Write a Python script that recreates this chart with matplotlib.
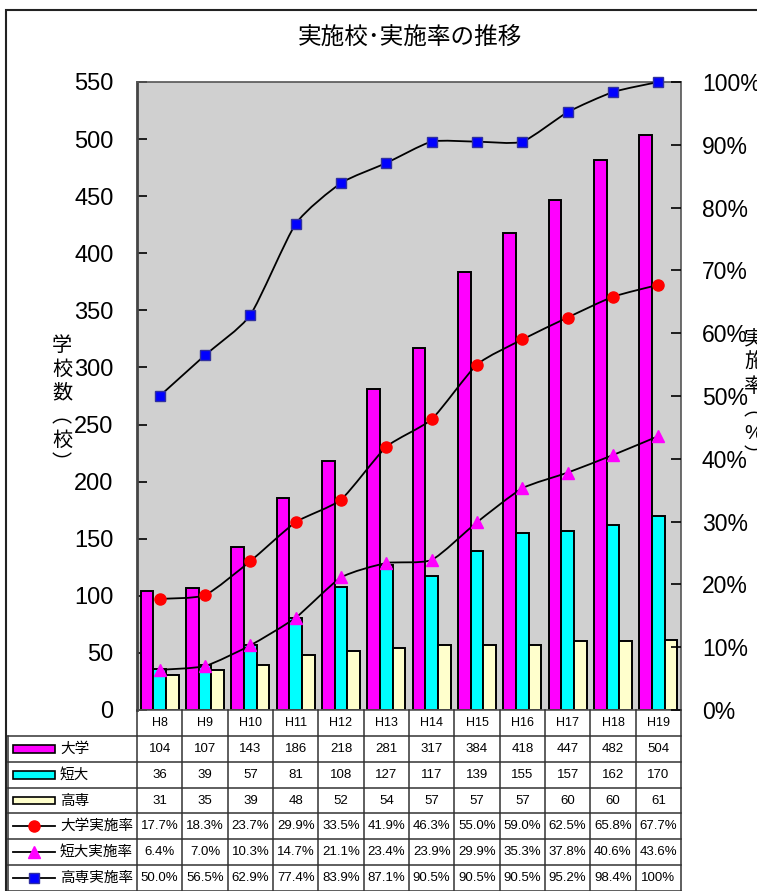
import matplotlib
matplotlib.use("Agg")
import matplotlib.pyplot as plt
import numpy as np
from matplotlib.path import Path
from matplotlib.patches import PathPatch, Rectangle

plt.rcParams['font.family'] = ['Liberation Sans', 'Noto Sans CJK JP', 'DejaVu Sans']

# ---- data ----
years = ["H8", "H9", "H10", "H11", "H12", "H13", "H14", "H15", "H16", "H17", "H18", "H19"]
univ = [104, 107, 143, 186, 218, 281, 317, 384, 418, 447, 482, 504]
junior = [36, 39, 57, 81, 108, 127, 117, 139, 155, 157, 162, 170]
kosen = [31, 35, 39, 48, 52, 54, 57, 57, 57, 60, 60, 61]
univ_rate = [17.7, 18.3, 23.7, 29.9, 33.5, 41.9, 46.3, 55.0, 59.0, 62.5, 65.8, 67.7]
junior_rate = [6.4, 7.0, 10.3, 14.7, 21.1, 23.4, 23.9, 29.9, 35.3, 37.8, 40.6, 43.6]
kosen_rate = [50.0, 56.5, 62.9, 77.4, 83.9, 87.1, 90.5, 90.5, 90.5, 95.2, 98.4, 100.0]
univ_rate_lbl = ["17.7%", "18.3%", "23.7%", "29.9%", "33.5%", "41.9%", "46.3%", "55.0%", "59.0%", "62.5%", "65.8%", "67.7%"]
junior_rate_lbl = ["6.4%", "7.0%", "10.3%", "14.7%", "21.1%", "23.4%", "23.9%", "29.9%", "35.3%", "37.8%", "40.6%", "43.6%"]
kosen_rate_lbl = ["50.0%", "56.5%", "62.9%", "77.4%", "83.9%", "87.1%", "90.5%", "90.5%", "90.5%", "95.2%", "98.4%", "100%"]
left_ticks = list(range(0, 551, 50))
right_ticks = list(range(0, 101, 10))

title = "実施校･実施率の推移"
ylabel_left = ["学", "校", "数", "︵", "校", "︶"]
ylabel_right = ["実", "施", "率", "︵", "%", "︶"]
series_names = ["大学", "短大", "高専", "大学実施率", "短大実施率", "高専実施率"]

W, H = 757, 891
fig = plt.figure(figsize=(W / 100, H / 100), dpi=100)

def fx(px):
    return px / W

def fy(py):
    return 1 - py / H

# frame
fig.add_artist(Rectangle((fx(6), fy(1000)), fx(900), fy(10) - fy(1000), transform=fig.transFigure,
                         fill=False, edgecolor='#222222', lw=1.5))

L, R, T, B = 137, 681, 82, 710
ax = fig.add_axes([fx(L), fy(B), fx(R - L), fy(T) - fy(B)])
ax.set_facecolor('#d0d0d0')
n = len(years)
x = np.arange(n)
bw = 0.28
cols = ['#ff00ff', '#00ffff', '#ffffcc']
for i, (vals, c) in enumerate(zip([univ, junior, kosen], cols)):
    ax.bar(x + (i - 1) * bw, vals, width=bw, color=c, edgecolor='black', linewidth=1.4, zorder=2)
ax.set_xlim(-0.5, n - 0.5)
ax.set_ylim(0, 550)
ax.set_yticks(left_ticks)
ax.set_xticks([])
ax.tick_params(axis='y', direction='in', length=7, width=1.2, labelsize=17, pad=17)
for s in ax.spines.values():
    s.set_color('#555555')
    s.set_linewidth(1.2)
ax.spines['left'].set_linewidth(2)
ax.spines['left'].set_color('#444444')

ax2 = ax.twinx()
ax2.set_ylim(0, 100)
ax2.set_yticks(right_ticks)
ax2.set_yticklabels([f"{v}%" for v in right_ticks])
ax2.tick_params(axis='y', direction='in', length=7, width=1.2, labelsize=16.5, pad=15)
for s in ax2.spines.values():
    s.set_visible(False)

def smooth_path(xs, ys, k=10.0):
    xs = np.asarray(xs, float)
    ys = np.asarray(ys, float)
    pts = np.column_stack([xs, ys])
    verts = [pts[0]]
    codes = [Path.MOVETO]
    m = len(pts)
    for i in range(m - 1):
        p0 = pts[i - 1] if i > 0 else pts[i]
        p1 = pts[i]
        p2 = pts[i + 1]
        p3 = pts[i + 2] if i + 2 < m else pts[i + 1]
        c1 = p1 + (p2 - p0) / k
        c2 = p2 - (p3 - p1) / k
        verts += [c1, c2, p2]
        codes += [Path.CURVE4] * 3
    return Path(verts, codes)

line_specs = [
    (univ_rate, dict(marker='o', markersize=8, markerfacecolor='#ff0000', markeredgecolor='#ff0000')),
    (junior_rate, dict(marker='^', markersize=9, markerfacecolor='#ff00ff', markeredgecolor='#ff00ff')),
    (kosen_rate, dict(marker='s', markersize=7, markerfacecolor='#0000ff', markeredgecolor='#3030a0')),
]
for vals, mk in line_specs:
    ax2.add_patch(PathPatch(smooth_path(x, vals), fill=False, edgecolor='black', lw=1.3, zorder=3))
    ax2.plot(x, vals, linestyle='none', zorder=4, clip_on=False, **mk)

# title and axis labels
fig.text(fx(410), fy(38), title, ha='center', va='center', fontsize=17)
fig.text(fx(62), fy(405), "\n".join(ylabel_left), ha='center', va='center',
         fontsize=14.5, linespacing=1.32)
fig.text(fx(744), fy(398), "\n".join(ylabel_right), ha='left', va='center',
         fontsize=14.5, linespacing=1.32)

# ---- data table ----
TL = 8
axt = fig.add_axes([fx(TL), 0, fx(R - TL), fy(B)])
unit = (R - L) / n
x0 = -0.5 - (L - TL) / unit
axt.set_xlim(x0, n - 0.5)
nrows = 7
axt.set_ylim(nrows, 0)
axt.axis('off')
lc = '#333333'
for r in range(1, nrows + 1):
    axt.plot([x0, n - 0.5], [r, r], color=lc, lw=1.1, clip_on=False)
for k in range(n + 1):
    axt.plot([k - 0.5, k - 0.5], [0, nrows], color=lc, lw=1.1, clip_on=False)
axt.plot([x0, x0], [1, nrows], color=lc, lw=1.1, clip_on=False)

for k, yl in enumerate(years):
    axt.text(k, 0.5, yl, ha='center', va='center', fontsize=9)

rows = [
    [str(v) for v in univ],
    [str(v) for v in junior],
    [str(v) for v in kosen],
    univ_rate_lbl,
    junior_rate_lbl,
    kosen_rate_lbl,
]
for r, row in enumerate(rows):
    for k, s in enumerate(row):
        axt.text(k, r + 1.5, s, ha='center', va='center', fontsize=9.5)

kx0 = x0 + 5 / unit
kx1 = x0 + 47 / unit
txt_x = x0 + 52 / unit
for r, c in enumerate(cols):
    yc = r + 1.5
    axt.add_patch(Rectangle((kx0, yc - 0.15), kx1 - kx0, 0.3, facecolor=c, edgecolor='black', lw=1.2,
                            clip_on=False))
for r, (vals, mk) in enumerate(line_specs):
    yc = r + 4.5
    axt.plot([kx0, kx1], [yc, yc], color='black', lw=1.3, clip_on=False)
    axt.plot([(kx0 + kx1) / 2], [yc], linestyle='none', clip_on=False, **mk)
for r, name in enumerate(series_names):
    axt.text(txt_x, r + 1.5, name, ha='left', va='center', fontsize=10.5)

fig.savefig("out.png", dpi=100)
